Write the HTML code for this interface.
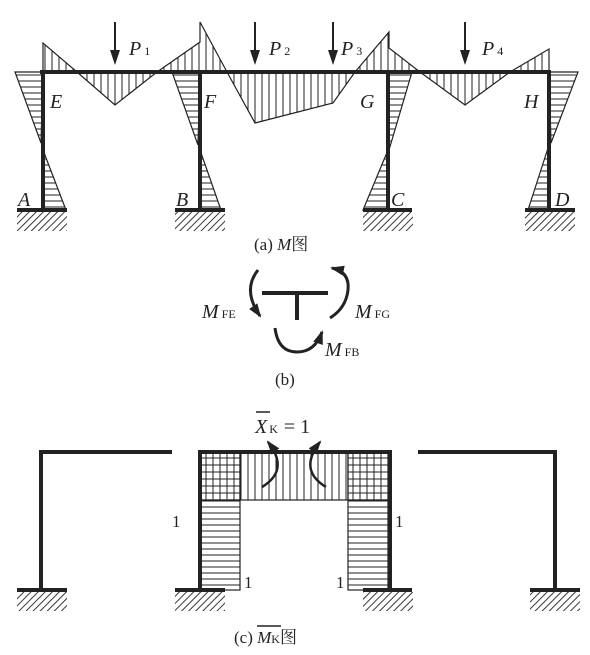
<!DOCTYPE html>
<html><head><meta charset="utf-8"><style>
html,body{margin:0;padding:0;background:#fff;}
svg{display:block;}
.lbl{font-family:"Liberation Serif","Noto Serif CJK SC",serif;font-style:italic;font-size:20px;fill:#222;}
.cap{font-family:"Liberation Serif","Noto Serif CJK SC",serif;font-size:17px;fill:#222;}
.sub{font-family:"Liberation Serif",serif;font-size:12px;fill:#222;font-style:normal;}
</style></head><body>
<svg width="590" height="655" viewBox="0 0 590 655">
<defs>
<pattern id="hh" width="6" height="6" patternUnits="userSpaceOnUse"><line x1="0" y1="3" x2="6" y2="3" stroke="#222" stroke-width="1"/></pattern>
<pattern id="vh" width="7" height="7" patternUnits="userSpaceOnUse"><line x1="3" y1="0" x2="3" y2="7" stroke="#222" stroke-width="1"/></pattern>
<pattern id="gh" width="7" height="7" patternUnits="userSpaceOnUse"><line x1="3" y1="0" x2="3" y2="7" stroke="#222" stroke-width="1"/><line x1="0" y1="3" x2="7" y2="3" stroke="#222" stroke-width="1"/></pattern>
<pattern id="gd" width="5" height="5" patternUnits="userSpaceOnUse" patternTransform="rotate(45)"><line x1="0" y1="0" x2="0" y2="5" stroke="#222" stroke-width="1.8"/></pattern>
<marker id="ar" viewBox="0 0 14 12" markerUnits="userSpaceOnUse" markerWidth="14" markerHeight="12" refX="12" refY="6" orient="auto"><path d="M0,1 L14,6 L0,11 Z" fill="#222" stroke="none"/></marker>
</defs>

<!-- Panel (a) -->
<g stroke="#222" stroke-width="1.2">
 <g fill="url(#hh)">
  <polygon points="15,72 43,72 41,143"/><polygon points="43,150 66,210 43,210"/>
  <polygon points="172,72 200,72 198,145"/><polygon points="200,150 221,210 200,210"/>
  <polygon points="388,72 412,72 389,150"/><polygon points="388,150 363,210 388,210"/>
  <polygon points="549,72 578,72 551,143"/><polygon points="549,145 528,210 549,210"/>
 </g>
 <g fill="url(#vh)">
  <polygon points="43,43 43,72 77,72"/>
  <polygon points="77,72 115,105 157,72"/>
  <polygon points="157,72 200,42 200,22 227,72"/>
  <polygon points="227,72 255,123 333,103 355,72"/>
  <polygon points="355,72 389,32 389,48 420,72"/>
  <polygon points="420,72 465,105 510,72"/>
  <polygon points="510,72 549,49 549,72"/>
 </g>
 <g stroke-width="4" fill="none">
  <line x1="40" y1="72" x2="551" y2="72"/>
  <line x1="43" y1="72" x2="43" y2="210"/><line x1="200" y1="72" x2="200" y2="210"/>
  <line x1="388" y1="72" x2="388" y2="210"/><line x1="549" y1="72" x2="549" y2="210"/>
  <line x1="17" y1="210" x2="67" y2="210"/><line x1="175" y1="210" x2="225" y2="210"/>
  <line x1="363" y1="210" x2="412" y2="210"/><line x1="525" y1="210" x2="575" y2="210"/>
 </g>
 <g stroke="none" fill="url(#gd)">
  <rect x="17" y="212" width="50" height="19"/><rect x="175" y="212" width="50" height="19"/>
  <rect x="363" y="212" width="50" height="19"/><rect x="525" y="212" width="50" height="19"/>
 </g>
 <g stroke-width="2">
  <line x1="115" y1="22" x2="115" y2="52"/><polygon points="110,50 120,50 115,65" fill="#222" stroke="none"/>
  <line x1="255" y1="22" x2="255" y2="52"/><polygon points="250,50 260,50 255,65" fill="#222" stroke="none"/>
  <line x1="333" y1="22" x2="333" y2="52"/><polygon points="328,50 338,50 333,65" fill="#222" stroke="none"/>
  <line x1="465" y1="22" x2="465" y2="52"/><polygon points="460,50 470,50 465,65" fill="#222" stroke="none"/>
 </g>
</g>
<g>
 <text class="lbl" x="129" y="55">P<tspan class="sub" dx="3">1</tspan></text>
 <text class="lbl" x="269" y="55">P<tspan class="sub" dx="3">2</tspan></text>
 <text class="lbl" x="341" y="55">P<tspan class="sub" dx="3">3</tspan></text>
 <text class="lbl" x="482" y="55">P<tspan class="sub" dx="3">4</tspan></text>
 <text class="lbl" x="50" y="108">E</text><text class="lbl" x="204" y="108">F</text>
 <text class="lbl" x="360" y="108">G</text><text class="lbl" x="524" y="108">H</text>
 <text class="lbl" x="18" y="206">A</text><text class="lbl" x="176" y="206">B</text>
 <text class="lbl" x="391" y="206">C</text><text class="lbl" x="555" y="206">D</text>
 <text class="cap" x="254" y="250">(a) <tspan font-style="italic">M</tspan>图</text>
</g>

<!-- Panel (b) -->
<g stroke="#222" fill="none">
 <line x1="262" y1="293" x2="328" y2="293" stroke-width="4"/>
 <line x1="297" y1="293" x2="297" y2="320" stroke-width="4"/>
 <path d="M258,270 Q242,290 260,316" stroke-width="3" marker-end="url(#ar)"/>
 <path d="M330,318 Q346,308 348,290 Q350,272 332,268" stroke-width="3" marker-end="url(#ar)"/>
 <path d="M275,328 Q278,352 297,352 Q315,352 322,332" stroke-width="3" marker-end="url(#ar)"/>
</g>
<g>
 <text class="lbl" x="202" y="318">M<tspan class="sub" dx="3">FE</tspan></text>
 <text class="lbl" x="355" y="318">M<tspan class="sub" dx="3">FG</tspan></text>
 <text class="lbl" x="325" y="356">M<tspan class="sub" dx="3">FB</tspan></text>
 <text class="cap" x="275" y="385">(b)</text>
</g>

<!-- Panel (c) -->
<g stroke="#222">
 <g stroke-width="1.2">
  <rect x="200" y="452" width="40" height="48" fill="url(#gh)"/>
  <rect x="240" y="452" width="108" height="48" fill="url(#vh)"/>
  <rect x="348" y="452" width="40" height="48" fill="url(#gh)"/>
  <rect x="200" y="500" width="40" height="90" fill="url(#hh)"/>
  <rect x="348" y="500" width="40" height="90" fill="url(#hh)"/>
 </g>
 <g stroke-width="4" fill="none">
  <polyline points="172,452 41,452 41,590"/>
  <polyline points="200,590 200,452 390,452 390,590"/>
  <polyline points="418,452 555,452 555,590"/>
  <line x1="17" y1="590" x2="67" y2="590"/><line x1="175" y1="590" x2="225" y2="590"/>
  <line x1="363" y1="590" x2="412" y2="590"/><line x1="530" y1="590" x2="580" y2="590"/>
 </g>
 <g stroke="none" fill="url(#gd)">
  <rect x="17" y="592" width="50" height="19"/><rect x="175" y="592" width="50" height="19"/>
  <rect x="363" y="592" width="50" height="19"/><rect x="530" y="592" width="50" height="19"/>
 </g>
 <g fill="none" stroke-width="2.5">
  <path d="M262,487 Q290,470 268,442" marker-end="url(#ar)"/>
  <path d="M326,487 Q298,470 320,442" marker-end="url(#ar)"/>
 </g>
</g>
<g>
 <text class="lbl" x="255" y="433">X<tspan class="sub" dx="2">K</tspan><tspan font-style="normal" dx="6">= 1</tspan></text>
 <line x1="256" y1="412" x2="270" y2="412" stroke="#222" stroke-width="1.5"/>
 <text class="cap" x="172" y="527">1</text><text class="cap" x="395" y="527">1</text>
 <text class="cap" x="244" y="588">1</text><text class="cap" x="336" y="588">1</text>
 <text class="cap" x="234" y="643">(c) <tspan font-style="italic">M</tspan><tspan class="sub">K</tspan>图</text>
 <line x1="257" y1="626" x2="281" y2="626" stroke="#222" stroke-width="1.5"/>
</g>
</svg>
</body></html>
